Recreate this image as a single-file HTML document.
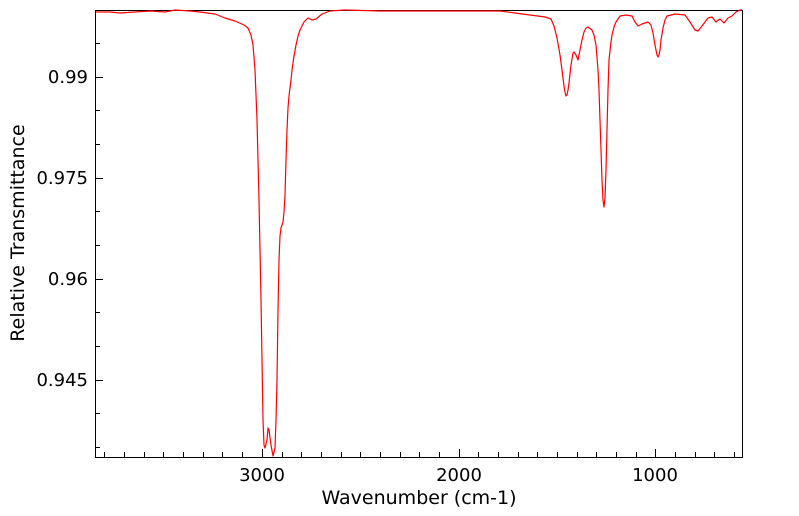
<!DOCTYPE html>
<html><head><style>body{margin:0;background:#fff}svg{display:block}text{font-family:"DejaVu Sans",sans-serif;fill:#000}</style></head><body>
<svg width="799" height="516" xmlns="http://www.w3.org/2000/svg">
<rect x="95.5" y="10.5" width="647" height="447" fill="none" stroke="#000" stroke-width="1"/>
<g stroke="#000" stroke-width="1">
<line x1="95" y1="77.5" x2="103" y2="77.5"/><line x1="95" y1="178.5" x2="103" y2="178.5"/><line x1="95" y1="279.5" x2="103" y2="279.5"/><line x1="95" y1="380.5" x2="103" y2="380.5"/>
<line x1="95" y1="43.5" x2="100" y2="43.5"/><line x1="95" y1="110.5" x2="100" y2="110.5"/><line x1="95" y1="144.5" x2="100" y2="144.5"/><line x1="95" y1="211.5" x2="100" y2="211.5"/><line x1="95" y1="245.5" x2="100" y2="245.5"/><line x1="95" y1="312.5" x2="100" y2="312.5"/><line x1="95" y1="346.5" x2="100" y2="346.5"/><line x1="95" y1="413.5" x2="100" y2="413.5"/><line x1="95" y1="447.5" x2="100" y2="447.5"/>
<line x1="262.5" y1="457" x2="262.5" y2="449"/><line x1="459.5" y1="457" x2="459.5" y2="449"/><line x1="655.5" y1="457" x2="655.5" y2="449"/>
<line x1="104.5" y1="457" x2="104.5" y2="452"/><line x1="124.5" y1="457" x2="124.5" y2="452"/><line x1="144.5" y1="457" x2="144.5" y2="452"/><line x1="163.5" y1="457" x2="163.5" y2="452"/><line x1="183.5" y1="457" x2="183.5" y2="452"/><line x1="203.5" y1="457" x2="203.5" y2="452"/><line x1="222.5" y1="457" x2="222.5" y2="452"/><line x1="242.5" y1="457" x2="242.5" y2="452"/>
<line x1="282.5" y1="457" x2="282.5" y2="452"/><line x1="301.5" y1="457" x2="301.5" y2="452"/><line x1="321.5" y1="457" x2="321.5" y2="452"/><line x1="341.5" y1="457" x2="341.5" y2="452"/><line x1="360.5" y1="457" x2="360.5" y2="452"/><line x1="380.5" y1="457" x2="380.5" y2="452"/><line x1="400.5" y1="457" x2="400.5" y2="452"/><line x1="419.5" y1="457" x2="419.5" y2="452"/><line x1="439.5" y1="457" x2="439.5" y2="452"/>
<line x1="478.5" y1="457" x2="478.5" y2="452"/><line x1="498.5" y1="457" x2="498.5" y2="452"/><line x1="518.5" y1="457" x2="518.5" y2="452"/><line x1="537.5" y1="457" x2="537.5" y2="452"/><line x1="557.5" y1="457" x2="557.5" y2="452"/><line x1="577.5" y1="457" x2="577.5" y2="452"/><line x1="596.5" y1="457" x2="596.5" y2="452"/><line x1="616.5" y1="457" x2="616.5" y2="452"/><line x1="636.5" y1="457" x2="636.5" y2="452"/>
<line x1="675.5" y1="457" x2="675.5" y2="452"/><line x1="695.5" y1="457" x2="695.5" y2="452"/><line x1="714.5" y1="457" x2="714.5" y2="452"/><line x1="734.5" y1="457" x2="734.5" y2="452"/>
</g>
<g font-size="18" text-anchor="end">
<text x="88" y="83">0.99</text><text x="88" y="184">0.975</text><text x="88" y="285">0.96</text><text x="88" y="386">0.945</text>
</g>
<g font-size="18" text-anchor="middle">
<text x="262" y="481">3000</text><text x="459" y="481">2000</text><text x="655" y="481">1000</text>
</g>
<g font-size="19" text-anchor="middle">
<text x="419" y="504">Wavenumber (cm-1)</text>
<text transform="translate(24,233) rotate(-90)">Relative Transmittance</text>
</g>
<polyline fill="none" stroke="#f00" stroke-width="1.2" stroke-linejoin="round" points="96,12 110,12 120,13 135,12 150,11 165,12 175,10 190,11 200,12 215,14 225,18 235,21 244,25 248,28 251,35 253,45 255,70 257,120 259,200 261,300 263,420 264,445 265,448 267,440 268,428 269,430 271,445 273,456 275,448 276,420 277,380 278,310 279,260 280,236 281,228 283,222 284,212 285,195 286,160 287,130 288,108 289,96 291,80 292,70 294,56 296,45 298,36 300,30 304,22 308,18 312,20 316,19 322,14 330,11 345,10 380,11 430,11 500,11 515,13 530,15 545,17 551,19 554,26 557,38 560,55 562,70 564,86 565,92 566,96 567,95 568,90 569,83 571,65 573,53 574,52 576,55 578,60 580,50 582,40 584,32 586,28 588,27 592,30 594,35 596,45 598,70 599,90 600,120 601,150 602,180 603,200 604,207 605,198 606,170 607,130 608,90 609,60 611,42 612,35 614,27 616,22 620,16 626,15 632,16 635,22 638,26 642,24 648,22 651,25 653,33 655,45 657,55 658,57 659,55 660,50 661,40 663,28 665,20 667,16 675,14 685,15 690,22 695,30 698,31 702,26 708,18 712,17 716,22 720,19 724,23 728,18 732,16 736,12 740,10 742,10"/>
</svg>
</body></html>
